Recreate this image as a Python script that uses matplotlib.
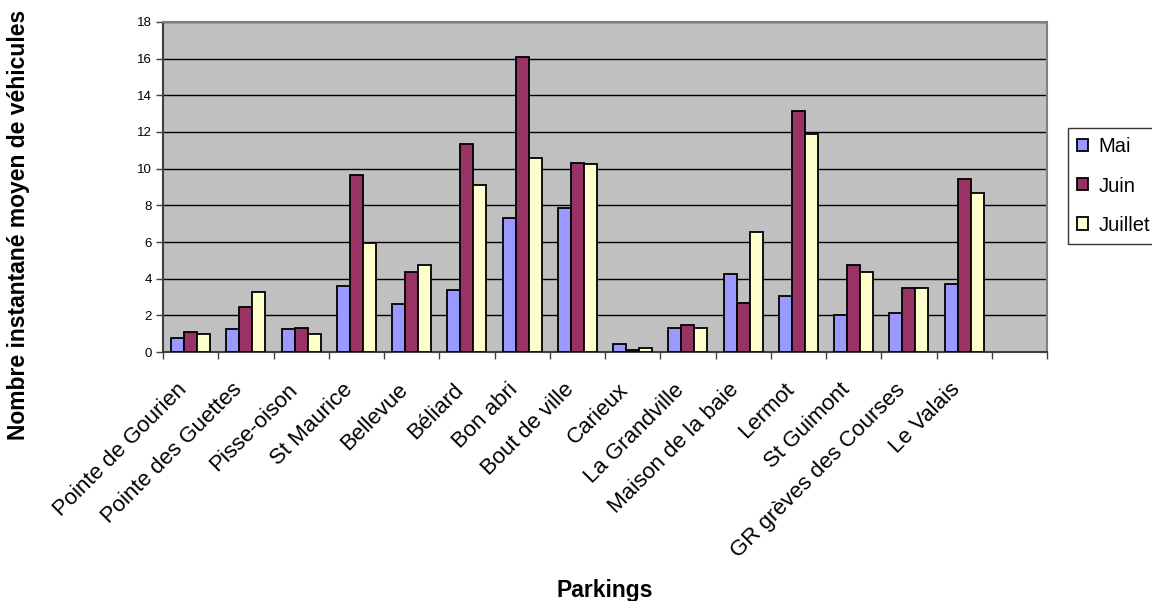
import numpy as np
import matplotlib.pyplot as plt
from matplotlib.transforms import ScaledTranslation

plt.rcParams['font.family'] = ['Liberation Sans', 'DejaVu Sans']

# Parkings (the last slot of the axis is empty in the original)
parkings = ['Pointe de Gourien', 'Pointe des Guettes', 'Pisse-oison', 'St Maurice',
            'Bellevue', 'Béliard', 'Bon abri', 'Bout de ville', 'Carieux',
            'La Grandville', 'Maison de la baie', 'Lermot', 'St Guimont',
            'GR grèves des Courses', 'Le Valais', '']

mai = [0.78, 1.23, 1.23, 3.6, 2.6, 3.36, 7.3, 7.86, 0.44, 1.32, 4.25, 3.03, 2.01, 2.12, 3.7, np.nan]
juin = [1.1, 2.47, 1.32, 9.67, 4.37, 11.36, 16.08, 10.33, 0.1, 1.45, 2.69, 13.16, 4.72, 3.48, 9.44, np.nan]
juillet = [1.0, 3.25, 1.0, 5.95, 4.72, 9.11, 10.56, 10.24, 0.2, 1.32, 6.52, 11.9, 4.37, 3.48, 8.67, np.nan]

series = [('Mai', mai, '#9999FF'), ('Juin', juin, '#993366'), ('Juillet', juillet, '#FFFFCC')]

fig = plt.figure(figsize=(11.52, 6.01), dpi=100)
ax = fig.add_axes([0.1415, 0.4143, 0.7674, 0.5491])
ax.set_facecolor('#C0C0C0')

x = np.arange(len(parkings))
w = 0.235
for i, (name, vals, col) in enumerate(series):
    ax.bar(x + (i - 1) * w, vals, w, color=col, edgecolor='black', linewidth=1.3,
           label=name, zorder=3)

ax.set_xlim(-0.5, len(parkings) - 0.5)
ax.set_ylim(0, 18)
ax.set_yticks(range(0, 19, 2))
ax.yaxis.grid(True, color='black', linewidth=1, zorder=1)
ax.set_axisbelow(True)

# ticks between categories, labels under each category
ax.set_xticks(np.arange(-0.5, len(parkings), 1), minor=False)
ax.set_xticklabels([])
ax.set_xticks(x, minor=True)
ax.set_xticklabels(parkings, minor=True, rotation=45, ha='right', va='center',
                   rotation_mode='anchor', fontsize=16)
ax.tick_params(axis='x', which='minor', length=0, pad=25)
ax.tick_params(axis='x', which='major', length=5, width=1, direction='out', color='#404040')
ax.tick_params(axis='y', length=5, width=1, direction='out', labelsize=9.5, pad=3,
               color='#404040')
shift = ScaledTranslation(-7 / 100, 0, fig.dpi_scale_trans)
for lbl in ax.get_xticklabels(minor=True):
    lbl.set_transform(lbl.get_transform() + shift)

for s in ax.spines.values():
    s.set_color('#808080')
    s.set_linewidth(1.5)
ax.spines['left'].set_color('#404040')
ax.spines['bottom'].set_color('#404040')

fig.text(0.016, 0.6265, 'Nombre instantané moyen de véhicules', rotation=90,
         ha='center', va='center', fontsize=16.5, fontweight='bold')
fig.text(0.525, 0.018, 'Parkings', ha='center', va='center', fontsize=16.5,
         fontweight='bold')

leg = ax.legend(loc='center left', bbox_to_anchor=(1.024, 0.503), fontsize=14.5,
                frameon=True, fancybox=False, edgecolor='black', handlelength=0.55,
                handleheight=0.55, labelspacing=1.0, borderpad=0.45,
                handletextpad=0.5, borderaxespad=0)
leg.get_frame().set_linewidth(1)

fig.savefig('out.png', dpi=100)
